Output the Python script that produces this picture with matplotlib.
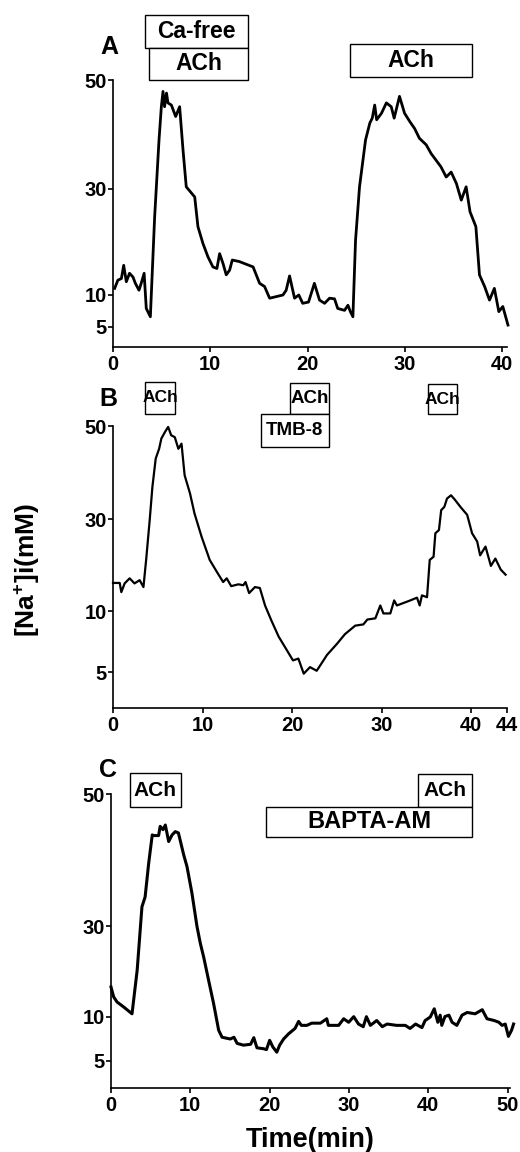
import numpy as np
import matplotlib
matplotlib.use("Agg")
import matplotlib.pyplot as plt
from matplotlib import font_manager
from matplotlib.patches import Rectangle
from matplotlib.transforms import blended_transform_factory

# ---------------- data ----------------
# Panel A : Ca-free ACh, then ACh
a_time = [0.17, 0.5, 0.86, 1.1, 1.37, 1.7, 2.05, 2.3, 2.67, 2.9, 3.2, 3.42, 3.84, 4.28, 4.73,
          4.97, 5.14, 5.3, 5.5, 5.65, 6.0, 6.44, 6.85, 7.2, 7.53, 8.4, 8.73, 9.25, 9.76, 10.27,
          10.68, 10.96, 11.3, 11.64, 11.99, 12.26, 13.0, 14.4, 15.07, 15.58, 16.1, 17.47, 17.8,
          18.15, 18.66, 19.1, 19.5, 20.1, 20.7, 21.23, 21.75, 22.26, 22.77, 23.1, 23.8, 24.15,
          24.4, 24.66, 24.93, 25.34, 25.96, 26.4, 26.65, 26.9, 27.1, 27.6, 28.1, 28.6, 28.9,
          29.45, 29.97, 30.5, 31.0, 31.5, 32.2, 32.7, 33.2, 33.7, 34.25, 34.76, 35.3, 35.8, 36.3,
          36.7, 37.3, 37.67, 38.2, 38.7, 39.2, 39.66, 40.07, 40.6]
a_na = [11.25, 12.8, 13.1, 15.6, 12.5, 14.1, 13.4, 12.2, 10.9, 12.2, 14.1, 7.9, 6.6, 24.7, 39.0,
        45.1, 47.9, 45.1, 47.6, 45.8, 45.4, 43.3, 45.1, 37.1, 30.4, 28.5, 22.9, 19.7, 17.2, 15.3,
        15.0, 17.8, 16.0, 13.8, 14.7, 16.6, 16.3, 15.3, 12.2, 11.6, 9.5, 10.0, 10.9,
        13.6, 9.5, 10.0, 8.7, 8.9, 12.2, 9.2, 8.7, 9.5, 9.4, 7.9, 7.6, 8.4,
        7.4, 6.6, 20.3, 30.4, 39.0, 42.1, 43.0, 45.4, 42.7, 43.9, 45.8, 45.1, 43.0,
        47.0, 43.9, 42.4, 41.1, 39.3, 38.1, 36.5, 35.3, 34.1, 32.2, 33.1, 31.0, 27.9, 30.4,
        25.7, 22.9, 13.8, 11.6, 9.2, 11.25, 7.4, 8.2, 5.3]

# Panel B : ACh, TMB-8 + ACh, ACh
b_time = [0.0, 0.75, 0.93, 1.3, 1.86, 2.4, 2.98, 3.4, 3.7, 4.1, 4.4, 4.77, 5.15, 5.4, 5.8, 6.16,
          6.5, 6.9, 7.3, 7.65, 8.0, 8.6, 9.1, 9.9, 10.8, 11.6, 12.3, 12.7, 13.2, 14.0, 14.55,
          14.8, 15.2, 15.85, 16.4, 16.98, 17.7, 18.5, 19.2, 20.1, 20.7, 21.3, 22.0, 22.75, 23.9,
          25.0, 25.9, 27.05, 27.96, 28.4, 29.3, 29.85, 30.2, 30.97, 31.4, 31.7, 33.2, 33.95,
          34.25, 34.5, 35.07, 35.37, 35.8, 36.0, 36.4, 36.65, 37.0, 37.3, 37.75, 38.2, 38.8,
          39.55, 40.1, 40.67, 41.0, 41.6, 42.2, 42.7, 43.3, 43.84]
b_na = [16.1, 16.1, 14.1, 16.0, 17.1, 16.0, 16.7, 15.2, 21.1, 29.8, 36.9, 43.0, 45.1, 47.3, 48.7, 49.8,
        48.0, 47.6, 45.1, 46.2, 39.4, 35.5, 31.2, 26.1, 21.1, 18.5, 16.3, 17.1, 15.4, 15.8, 15.6,
        16.3, 13.9, 15.2, 15.0, 11.2, 9.2, 7.9, 7.05, 5.95, 6.1, 4.86, 5.4, 5.1, 6.4,
        7.3, 8.1, 8.8, 8.9, 9.3, 9.4, 11.2, 9.8, 9.8, 12.3, 11.2, 12.3, 12.9,
        11.2, 13.4, 13.0, 21.1, 21.8, 26.9, 27.6, 31.9, 32.6, 34.4, 35.1, 34.1, 32.6,
        30.9, 26.9, 25.1, 22.1, 24.0, 19.8, 21.4, 19.0, 17.9]

# Panel C : ACh, BAPTA-AM + ACh
c_time = [0.0, 0.34, 0.76, 1.6, 2.65, 3.3, 3.9, 4.3, 4.75, 5.2, 5.4, 6.0, 6.2, 6.55, 6.85, 7.27,
          7.7, 8.1, 8.5, 9.16, 9.58, 10.2, 10.84, 11.26, 11.68, 12.3, 12.94, 13.57, 14.0, 15.04,
          15.5, 15.9, 16.7, 17.6, 18.0, 18.4, 19.2, 19.6, 20.0, 20.4, 20.9, 21.26, 21.76, 22.4,
          23.2, 23.65, 24.0, 24.7, 25.3, 26.4, 27.2, 27.4, 28.7, 29.33, 29.96, 30.6, 31.2, 31.8,
          32.2, 32.7, 33.5, 34.2, 34.8, 36.0, 37.1, 37.7, 38.4, 39.2, 39.6, 40.25, 40.75, 41.2,
          41.5, 41.7, 42.1, 42.6, 43.0, 43.6, 44.25, 44.9, 45.9, 46.8, 47.4, 48.3, 48.9, 49.3,
          49.7, 50.1, 50.5, 50.75]
c_na = [16.6, 14.4, 13.3, 12.2, 10.7, 20.3, 32.9, 34.4, 39.5, 43.8, 43.7, 43.7, 45.1, 44.6, 45.3, 42.8,
        43.8, 44.3, 44.1, 40.8, 39.0, 35.0, 29.9, 26.2, 23.2, 18.1, 12.9, 8.5, 7.7, 7.5,
        7.7, 7.0, 6.8, 6.9, 7.65, 6.5, 6.4, 6.3, 7.35, 6.6, 6.0, 6.8, 7.5, 8.1,
        8.7, 9.5, 9.05, 9.05, 9.3, 9.3, 9.8, 9.05, 9.05, 9.8, 9.4, 10.07, 9.2, 8.9,
        10.07, 9.05, 9.6, 8.9, 9.2, 9.05, 9.05, 8.7, 9.2, 8.8, 9.6, 10.0, 11.8, 9.4,
        10.4, 9.05, 10.1, 10.4, 9.4, 9.05, 10.4, 11.0, 10.7, 11.6, 9.8, 9.6, 9.4, 9.05,
        9.2, 7.8, 8.5, 9.2]

y_ticks = [5, 10, 30, 50]
a_xticks = [0, 10, 20, 30, 40]
b_xticks = [0, 10, 20, 30, 40, 44]
c_xticks = [0, 10, 20, 30, 40, 50]

# treatment bars: (label, start min, end min)
a_boxes = [("Ca-free", 3.3, 13.9), ("ACh", 3.7, 13.9), ("ACh", 24.4, 36.9)]
b_boxes = [("ACh", 3.6, 6.9), ("ACh", 19.8, 24.1), ("TMB-8", 16.5, 24.1), ("ACh", 35.2, 38.4)]
c_boxes = [("ACh", 2.4, 8.8), ("ACh", 38.7, 45.5), ("BAPTA-AM", 19.6, 45.5)]

# ---------------- style ----------------
names = {f.name for f in font_manager.fontManager.ttflist}
MAIN = "Liberation Sans" if "Liberation Sans" in names else "DejaVu Sans"
NARROW = "Liberation Sans Narrow" if "Liberation Sans Narrow" in names else MAIN

plt.rcParams["font.family"] = [MAIN, "DejaVu Sans"]
plt.rcParams["font.weight"] = "bold"
plt.rcParams["mathtext.fontset"] = "custom"
plt.rcParams["mathtext.rm"] = MAIN + ":bold"
plt.rcParams["mathtext.bf"] = MAIN + ":bold"
plt.rcParams["mathtext.default"] = "bf"

W, H = 520, 1152
fig = plt.figure(figsize=(W / 100, H / 100), dpi=100)


def pw(x, xp, fp):
    x = np.asarray(x, dtype=float)
    y = np.interp(x, xp, fp)
    y = np.where(x < xp[0], fp[0] + (x - xp[0]) * (fp[1] - fp[0]) / (xp[1] - xp[0]), y)
    y = np.where(x > xp[-1], fp[-1] + (x - xp[-1]) * (fp[-1] - fp[-2]) / (xp[-1] - xp[-2]), y)
    return y


def make_axes(left, right, top, bottom, xlim, cal_pos, xticks):
    ax = fig.add_axes([left / W, 1 - bottom / H, (right - left) / W, (bottom - top) / H])
    cal_vals = [2, 5, 10, 30, 50]
    ax.set_yscale("function", functions=(lambda v: pw(v, cal_vals, cal_pos),
                                         lambda p: pw(p, cal_pos, cal_vals)))
    ax.set_ylim(2, 50)
    ax.set_xlim(*xlim)
    ax.set_yticks(y_ticks)
    ax.set_yticklabels([str(t) for t in y_ticks])
    ax.set_xticks(xticks)
    ax.set_xticklabels([str(t) for t in xticks])
    ax.minorticks_off()
    for s in ("top", "right"):
        ax.spines[s].set_visible(False)
    for s in ("left", "bottom"):
        ax.spines[s].set_linewidth(1.2)
    ax.tick_params(axis="both", direction="out", length=3.5, width=1.2, labelsize=14.5)
    ax.tick_params(axis="y", pad=1)
    ax.tick_params(axis="x", pad=2)
    for lab in ax.get_xticklabels() + ax.get_yticklabels():
        lab.set_fontweight("bold")
    return ax


def draw_box(ax, label, t0, t1, ytop, ybot, fs, family):
    tr = blended_transform_factory(ax.transData, fig.transFigure)
    r = Rectangle((t0, 1 - ybot / H), t1 - t0, (ybot - ytop) / H, transform=tr,
                  facecolor="white", edgecolor="black", linewidth=1.0, clip_on=False, zorder=5)
    fig.add_artist(r)
    fig.text(0, 0, label, transform=tr, fontsize=fs, fontweight="bold", family=family,
             ha="center", va="center", zorder=6).set_position(((t0 + t1) / 2, 1 - (ytop + ybot) / 2 / H))


# Panel A
axA = make_axes(113, 507, 80, 347, (0, 40.5), [0, 20, 52, 158, 267], a_xticks)
axA.plot(a_time, a_na, color="black", lw=2.0, clip_on=False)
a_rows = [(15, 48), (48, 80), (44, 77)]
for (lab, t0, t1), (yt, yb) in zip(a_boxes, a_rows):
    draw_box(axA, lab, t0, t1, yt, yb, 16.5, MAIN)
fig.text(109 / W, 1 - 47 / H, "A", fontsize=18, fontweight="bold", ha="center", va="center")

# Panel B
axB = make_axes(113, 507, 426, 708, (0, 44), [0, 36, 97, 189, 282], b_xticks)
axB.plot(b_time, b_na, color="black", lw=1.6, clip_on=False)
b_rows = [(382, 414), (383, 414), (414, 447), (384, 414)]
b_fs = [12.5, 13.5, 13.5, 12.5]
for (lab, t0, t1), (yt, yb), fs in zip(b_boxes, b_rows, b_fs):
    draw_box(axB, lab, t0, t1, yt, yb, fs, NARROW)
fig.text(108 / W, 1 - 399 / H, "B", fontsize=18, fontweight="bold", ha="center", va="center")

# Panel C
axC = make_axes(111, 510, 794, 1088, (0, 50.3), [0, 27, 71, 162, 294], c_xticks)
axC.plot(c_time, c_na, color="black", lw=2.2, clip_on=False)
c_rows = [(773, 807), (774, 807), (807, 837)]
c_fs = [15, 15, 17]
for (lab, t0, t1), (yt, yb), fs in zip(c_boxes, c_rows, c_fs):
    draw_box(axC, lab, t0, t1, yt, yb, fs, MAIN)
fig.text(108 / W, 1 - 770 / H, "C", fontsize=18, fontweight="bold", ha="center", va="center")

# axis labels
fig.text(310 / W, 1 - 1140 / H, "Time(min)", fontsize=19.5, fontweight="bold",
         ha="center", va="center", family=NARROW)
fig.text(27 / W, 1 - 570 / H, r"[Na$^{+}$]i(mM)", fontsize=19, fontweight="bold",
         rotation=90, ha="center", va="center", family=NARROW)

fig.savefig("out.png", dpi=100, facecolor="white")
